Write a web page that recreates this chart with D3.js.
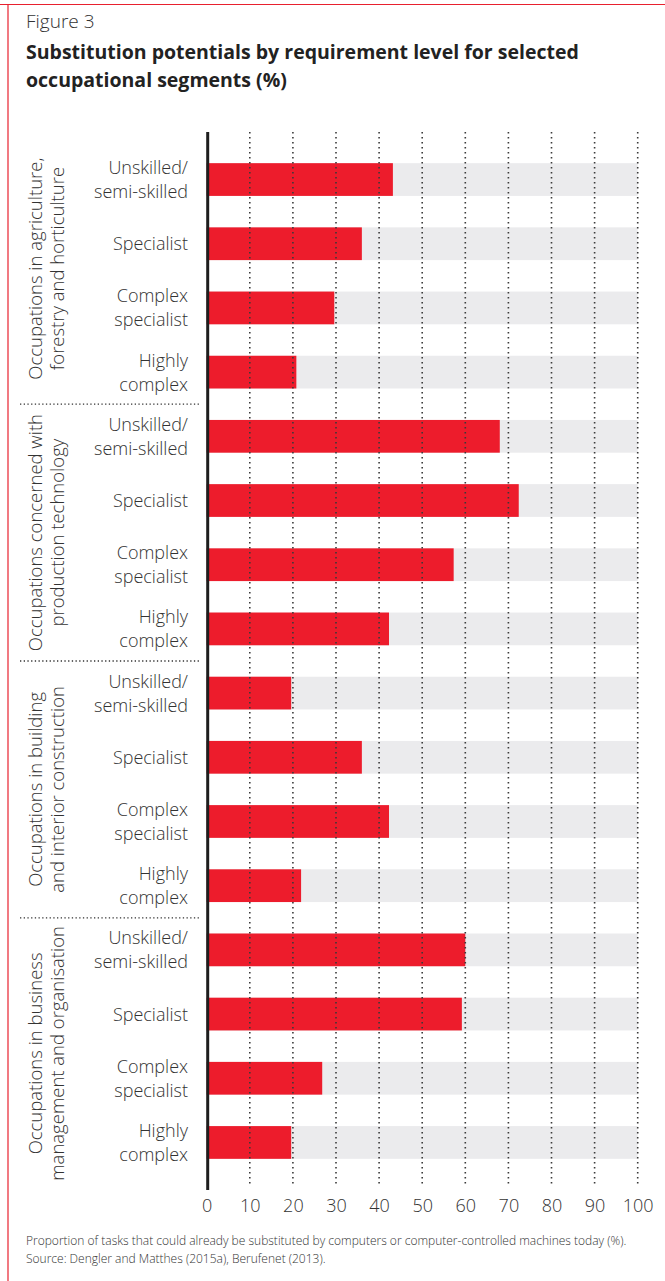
<!DOCTYPE html>
<html>
<head>
<meta charset="utf-8">
<script src="https://cdn.jsdelivr.net/npm/d3@7"></script>
<style>
  html, body { margin: 0; padding: 0; background: #fff; }
  svg { display: block; }
  .lbl { font-family: "Open Sans", "Noto Sans", sans-serif; font-weight: 300; fill: #333; }
</style>
</head>
<body>
<svg id="chart" width="665" height="1281"></svg>
<script>
// Occupational segments (each drawn as a block of four requirement levels)
const groups = [
  ["Occupations in agriculture,", "forestry and horticulture"],
  ["Occupations concerned with", "production technology"],
  ["Occupations in building", "and interior construction"],
  ["Occupations in business", "management and organisation"]
];
const levels = [
  ["Unskilled/", "semi-skilled"],
  ["Specialist"],
  ["Complex", "specialist"],
  ["Highly", "complex"]
];
// Substitution potential (%) per segment, in level order
const agriculture = [43.2, 36.0, 29.6, 20.8];
const production = [68.0, 72.4, 57.3, 42.3];
const building = [19.6, 36.0, 42.3, 21.9];
const business = [60.0, 59.2, 26.8, 19.6];
const xTicks = [0, 10, 20, 30, 40, 50, 60, 70, 80, 90, 100];

const seriesBySegment = [agriculture, production, building, business];
const rows = [];
seriesBySegment.forEach((vals, g) => {
  vals.forEach((v, i) => rows.push({ id: g + "-" + i, group: g, level: i, value: v }));
});

const svg = d3.select("#chart");
const W = 665, H = 1281;

// frame rules (top and left)
svg.append("line").attr("x1", 0).attr("x2", W).attr("y1", 4.5).attr("y2", 4.5)
  .attr("stroke", "#e8202e").attr("stroke-width", 1.2);
svg.append("line").attr("x1", 8).attr("x2", 8).attr("y1", 4).attr("y2", H)
  .attr("stroke", "#e8202e").attr("stroke-width", 1.2);

// heading
svg.append("text").attr("x", 26).attr("y", 28)
  .attr("font-family", "'Open Sans', sans-serif").attr("font-weight", 300)
  .attr("font-size", 19).attr("fill", "#333").text("Figure 3");
const titleLines = ["Substitution potentials by requirement level for selected", "occupational segments (%)"];
svg.append("g").selectAll("text").data(titleLines).join("text")
  .attr("x", 26).attr("y", (d, i) => 59 + i * 28)
  .attr("font-family", "'Open Sans', sans-serif").attr("font-weight", 700)
  .attr("font-size", 19.5).attr("fill", "#222").text(d => d);

const x = d3.scaleLinear().domain([0, 100]).range([206.7, 637.7]);
const y = d3.scaleBand().domain(rows.map(r => r.id)).range([133, 1189])
  .paddingInner(0.49).paddingOuter(0.47);

// full-scale background tracks
svg.append("g").selectAll("rect").data(rows).join("rect")
  .attr("x", x(0)).attr("y", d => y(d.id))
  .attr("width", x(100) - x(0)).attr("height", y.bandwidth())
  .attr("fill", "#ebebed");

// value bars
svg.append("g").selectAll("rect").data(rows).join("rect")
  .attr("x", x(0)).attr("y", d => y(d.id))
  .attr("width", d => x(d.value) - x(0)).attr("height", y.bandwidth())
  .attr("fill", "#ed1c2c");

// dotted vertical grid on top of bars
const gridTop = 132, gridBottom = 1187;
svg.append("g").selectAll("line").data(xTicks.filter(t => t > 0)).join("line")
  .attr("x1", d => x(d)).attr("x2", d => x(d))
  .attr("y1", gridTop).attr("y2", gridBottom)
  .attr("stroke", "#3a3a3a").attr("stroke-width", 1.6)
  .attr("stroke-dasharray", "1.6,3.4");

// value axis baseline
svg.append("line").attr("x1", x(0) + 1).attr("x2", x(0) + 1)
  .attr("y1", 132).attr("y2", 1190)
  .attr("stroke", "#1e1e1e").attr("stroke-width", 3);

// x tick labels via d3 axis
const xAxis = d3.axisBottom(x).tickValues(xTicks).tickSize(0).tickPadding(0);
const gx = svg.append("g").attr("transform", "translate(0,1199)").call(xAxis);
gx.select(".domain").remove();
gx.selectAll("text").attr("class", "lbl").attr("font-size", 18)
  .attr("dy", "0.72em").style("font-family", "'Open Sans', sans-serif").style("fill", "#333");

// requirement level labels
const lvl = svg.append("g").selectAll("text").data(rows).join("text")
  .attr("class", "lbl").attr("font-size", 18).attr("text-anchor", "end")
  .attr("x", 188);
lvl.each(function (d) {
  const lines = levels[d.level];
  const cy = y(d.id) + y.bandwidth() / 2;
  const lh = 24;
  const t = d3.select(this);
  lines.forEach((ln, i) => {
    t.append("tspan").attr("x", 188)
      .attr("y", cy + (i - (lines.length - 1) / 2) * lh)
      .attr("dy", "0.36em").text(ln);
  });
});

// segment separators and rotated segment labels
const step = y.step();
const sepY = [1, 2, 3].map(g => {
  const last = rows.find(r => r.group === g - 1 && r.level === 3).id;
  return y(last) + y.bandwidth() + (step - y.bandwidth()) / 2;
});
svg.append("g").selectAll("line").data(sepY).join("line")
  .attr("x1", 20).attr("x2", 199).attr("y1", d => d).attr("y2", d => d)
  .attr("stroke", "#333").attr("stroke-width", 1.3).attr("stroke-dasharray", "1.3,2.4");

const bounds = [133, ...sepY, 1189];
groups.forEach((lines, g) => {
  const cy = (bounds[g] + bounds[g + 1]) / 2;
  const t = svg.append("text").attr("class", "lbl").attr("font-size", 18.5)
    .attr("text-anchor", "middle")
    .attr("transform", `translate(0,${cy}) rotate(-90)`);
  lines.forEach((ln, i) => {
    t.append("tspan").attr("x", 0).attr("y", 35 + i * 22).attr("dy", "0.36em").text(ln);
  });
});

// footnote
const notes = [
  "Proportion of tasks that could already be substituted by computers or computer-controlled machines today (%).",
  "Source: Dengler and Matthes (2015a), Berufenet (2013)."
];
svg.append("g").selectAll("text").data(notes).join("text")
  .attr("x", 26).attr("y", (d, i) => 1245 + i * 18)
  .attr("font-family", "'Open Sans', sans-serif").attr("font-weight", 300)
  .attr("font-size", 12).attr("fill", "#333").text(d => d);
</script>
</body>
</html>
